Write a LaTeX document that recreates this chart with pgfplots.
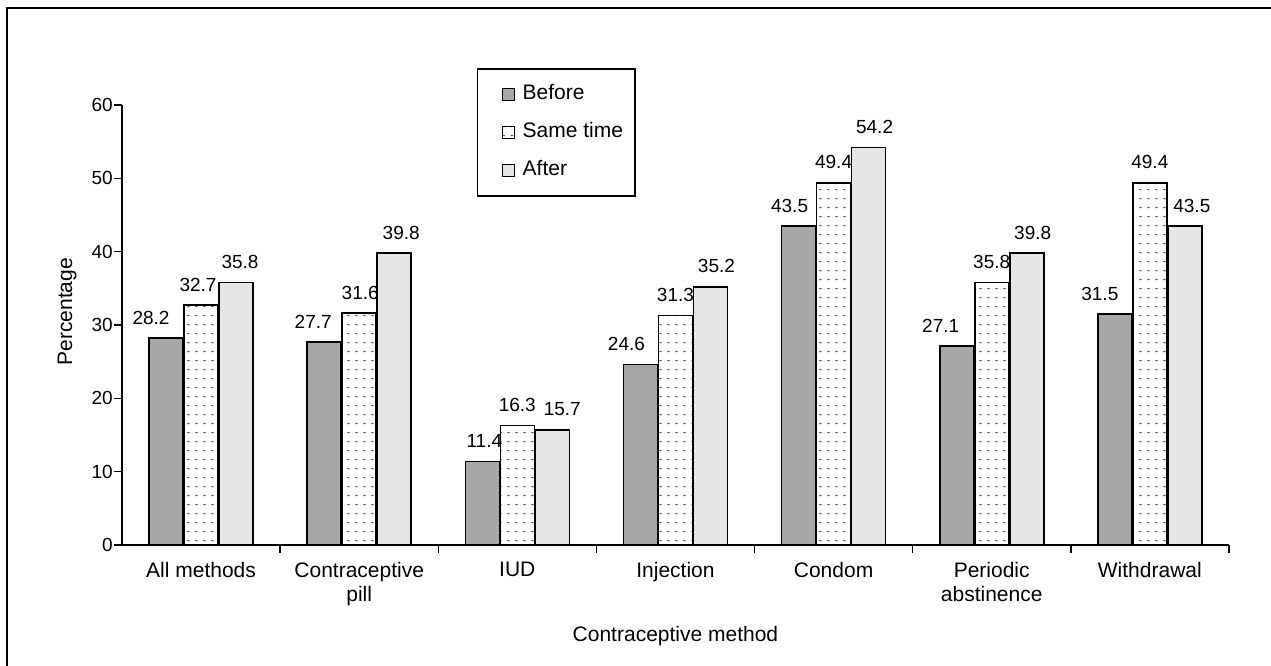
\documentclass[border=0pt]{standalone}
\usepackage{pgfplots}
\pgfplotsset{compat=1.18}
\usepackage{pgfplotstable}
\usepackage{fontspec}
\setmainfont{Liberation Sans}
\usetikzlibrary{patterns}

\definecolor{beforegray}{RGB}{167,167,170}
\definecolor{aftergray}{RGB}{230,230,232}
\definecolor{dotgray}{RGB}{80,80,80}

% sparse grid of short dashes used for the "Same time" bars
\pgfdeclarepatternformonly{sparsedots}{\pgfqpoint{0bp}{0bp}}{\pgfqpoint{7.7bp}{9.4bp}}{\pgfqpoint{7.7bp}{9.4bp}}{%
  \pgfpathrectangle{\pgfqpoint{2.5bp}{4bp}}{\pgfqpoint{2.4bp}{1.2bp}}%
  \pgfusepath{fill}%
}

% value, label shift (bp) for each series
\pgfplotstableread{
x before dxb same dxs after dxa
0 28.2 -15 32.7 -3 35.8 4
1 27.7 -11 31.6 1 39.8 7
2 11.4 2 16.3 0 15.7 10
3 24.6 -14 31.3 0 35.2 6
4 43.5 -9 49.4 0 54.2 6
5 27.1 -16 35.8 0 39.8 6
6 31.5 -15 49.4 0 43.5 7
}\data

\newcommand{\bigtext}{\fontsize{21bp}{24bp}\selectfont}
\newcommand{\numtext}{\fontsize{19bp}{22bp}\selectfont}

\begin{document}
\begin{tikzpicture}
\useasboundingbox (0bp,-666bp) rectangle (1271bp,0bp);
\draw[line width=1.5bp] (7bp,-666bp) -- (7bp,-8bp) -- (1271bp,-8bp);

\begin{axis}[
  at={(122bp,-545bp)}, anchor=south west,
  scale only axis, width=1107bp, height=440bp,
  xmin=-0.5, xmax=6.5, ymin=0, ymax=60,
  axis lines*=left,
  axis line style={line width=1.5bp},
  every tick/.style={line width=1.5bp, black},
  tick align=outside,
  major tick length=8bp,
  ytick={0,10,...,60},
  yticklabel style={font=\numtext, inner sep=1bp},
  /pgf/number format/assume math mode=true,
  xtick={0.5,1.5,...,6.5},
  xticklabels={},
  extra x ticks={0,1,...,6},
  extra x tick labels={All methods, Contraceptive\\pill, IUD, Injection, Condom, Periodic\\abstinence, Withdrawal},
  extra x tick style={major tick length=0pt,
    xticklabel style={font=\bigtext, align=center, anchor=north, inner sep=0pt, yshift=-17bp}},
  xlabel={Contraceptive method},
  ylabel={Percentage},
  every axis x label/.style={at={(axis description cs:0.5,-0.207)}, anchor=center, font=\bigtext},
  every axis y label/.style={at={(axis description cs:-0.0497,0.53)}, anchor=center, rotate=90, font=\bigtext},
  ybar, bar width=34bp,
  every axis plot/.append style={draw=black, line width=1.6bp},
  nodes near coords={\pgfmathprintnumber[fixed,precision=1,fixed zerofill]{\pgfplotspointmeta}},
  nodes near coords style={font=\numtext, anchor=south, inner sep=0pt, yshift=13bp,
    /pgf/number format/assume math mode=true},
  legend style={at={(rel axis cs:0.3207,1.084)}, anchor=north west,
    draw=black, line width=1.5bp, font=\bigtext,
    inner xsep=10bp, inner ysep=14bp, row sep=15bp,
    nodes={text height=15bp, text depth=4bp}},
  legend cell align=left,
  legend image code/.code={%
    % invisible span that sets the width of the legend key cell
    \pgfpathmoveto{\pgfqpoint{0bp}{0bp}}\pgfpathlineto{\pgfqpoint{33bp}{0bp}}\pgfusepath{}%
    \draw[#1, line width=1.2bp] (15bp,-6bp) rectangle (27bp,6bp);},
]
\addplot[fill=beforegray, bar shift=-35bp,
  visualization depends on={\thisrow{dxb}\as\dx},
  every node near coord/.append style={xshift=\dx bp}]
  table[x=x, y=before] {\data};
\addplot[fill=white, postaction={pattern=sparsedots, pattern color=dotgray}, bar shift=0bp,
  visualization depends on={\thisrow{dxs}\as\dx},
  every node near coord/.append style={xshift=\dx bp}]
  table[x=x, y=same] {\data};
\addplot[fill=aftergray, bar shift=35bp,
  visualization depends on={\thisrow{dxa}\as\dx},
  every node near coord/.append style={xshift=\dx bp}]
  table[x=x, y=after] {\data};
\legend{Before, Same time, After}
\end{axis}
\end{tikzpicture}
\end{document}
